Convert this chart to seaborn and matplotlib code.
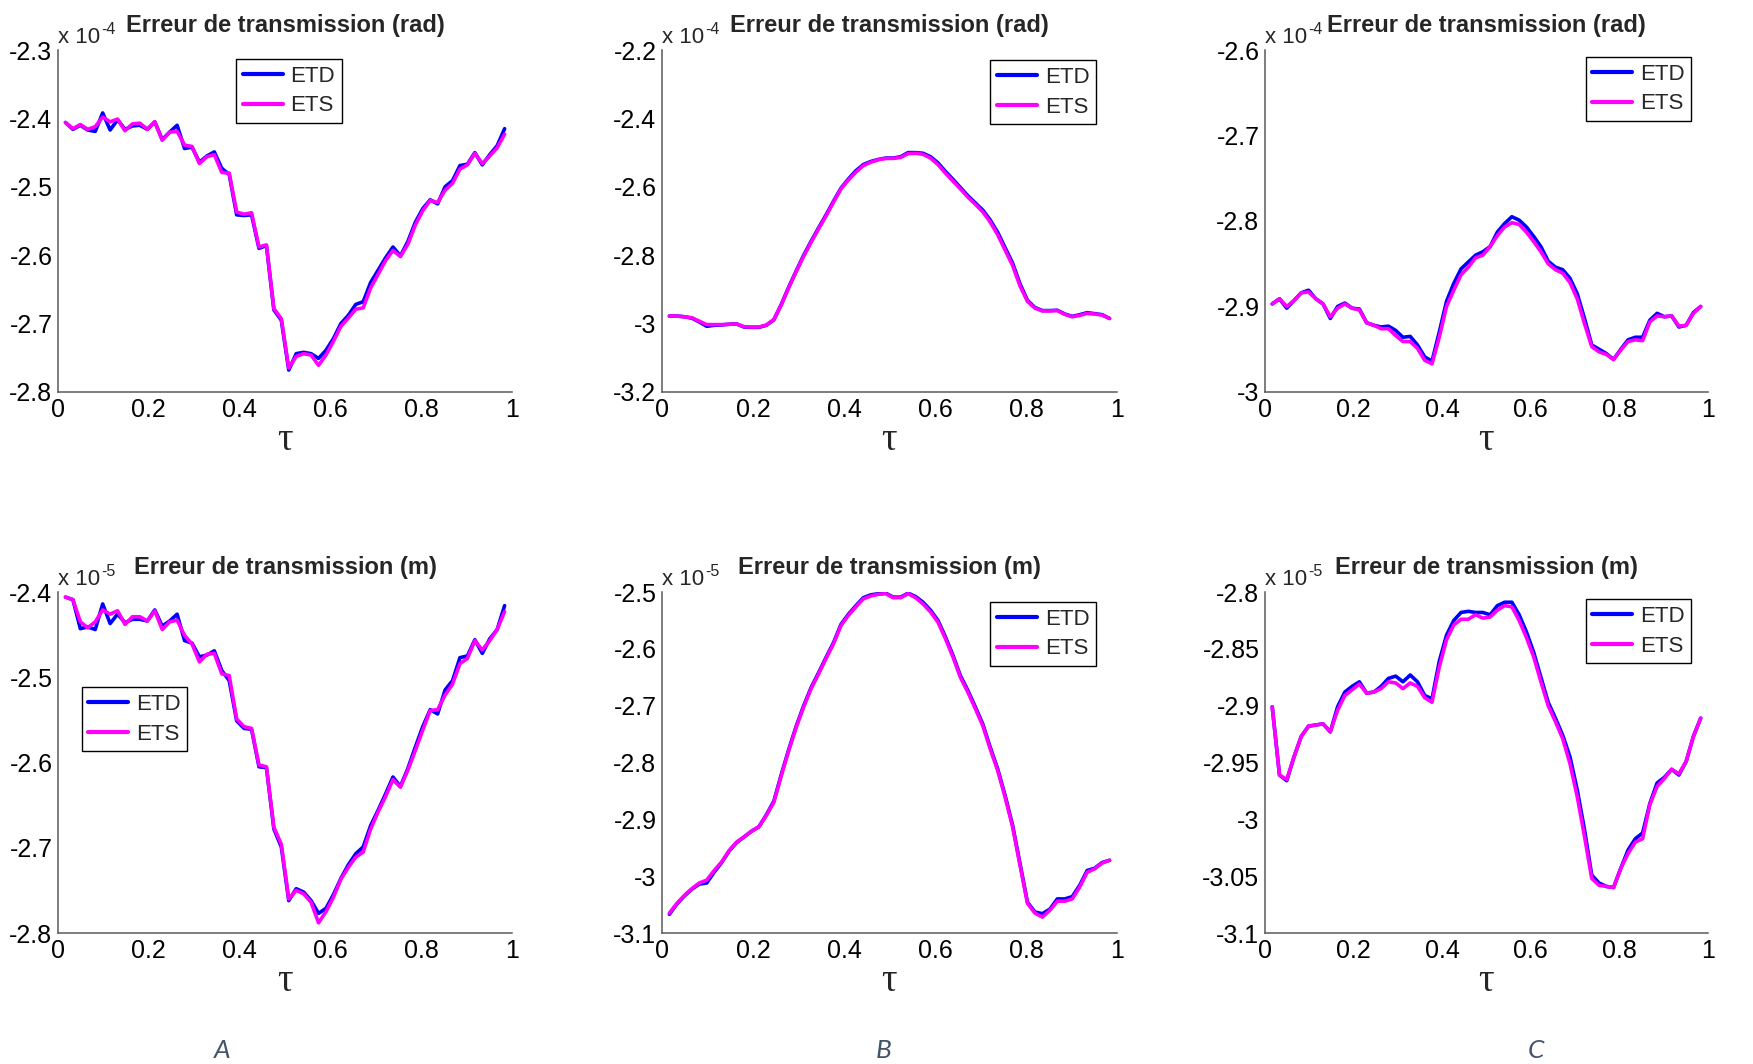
import numpy as np
import pandas as pd
import matplotlib
matplotlib.use("Agg")
import matplotlib.pyplot as plt
from matplotlib.lines import Line2D
from matplotlib.ticker import FuncFormatter, MultipleLocator
import seaborn as sns

sns.set_theme(style="white")
plt.rcParams["font.family"] = ["Liberation Sans", "DejaVu Sans"]

# grille en tau (60 points)
tau = np.arange(1, 61) / 61

# --- ligne du haut : erreur de transmission (rad), x 1e-4 ---
a_rad_etd = [-2.406, -2.416, -2.410, -2.417, -2.419, -2.392, -2.417, -2.402, -2.416, -2.411,
             -2.410, -2.416, -2.405, -2.431, -2.420, -2.410, -2.444, -2.442, -2.464, -2.455,
             -2.449, -2.473, -2.482, -2.541, -2.542, -2.541, -2.590, -2.586, -2.680, -2.695,
             -2.768, -2.744, -2.742, -2.744, -2.751, -2.739, -2.722, -2.700, -2.688, -2.672,
             -2.668, -2.640, -2.622, -2.604, -2.588, -2.601, -2.580, -2.552, -2.532, -2.519,
             -2.525, -2.500, -2.491, -2.469, -2.467, -2.450, -2.468, -2.453, -2.440, -2.415]
a_rad_ets = [-2.406, -2.415, -2.409, -2.416, -2.412, -2.398, -2.405, -2.401, -2.418, -2.408,
             -2.407, -2.416, -2.405, -2.432, -2.420, -2.419, -2.439, -2.441, -2.466, -2.456,
             -2.453, -2.479, -2.480, -2.537, -2.540, -2.538, -2.588, -2.585, -2.678, -2.693,
             -2.765, -2.748, -2.744, -2.746, -2.761, -2.746, -2.726, -2.704, -2.692, -2.679,
             -2.677, -2.648, -2.628, -2.608, -2.593, -2.602, -2.584, -2.556, -2.535, -2.520,
             -2.523, -2.505, -2.495, -2.474, -2.468, -2.451, -2.466, -2.455, -2.443, -2.423]

b_rad_etd = [-2.978, -2.978, -2.980, -2.984, -2.995, -3.008, -3.005, -3.004, -3.002, -3.001,
             -3.010, -3.011, -3.011, -3.005, -2.989, -2.944, -2.893, -2.846, -2.800, -2.759,
             -2.720, -2.682, -2.642, -2.604, -2.577, -2.553, -2.535, -2.526, -2.520, -2.516,
             -2.516, -2.512, -2.500, -2.500, -2.502, -2.512, -2.530, -2.555, -2.578, -2.602,
             -2.626, -2.647, -2.668, -2.697, -2.733, -2.778, -2.823, -2.884, -2.932, -2.953,
             -2.962, -2.962, -2.961, -2.972, -2.979, -2.974, -2.968, -2.971, -2.974, -2.985]
b_rad_ets = [-2.978, -2.978, -2.980, -2.983, -2.993, -3.003, -3.003, -3.003, -3.002, -3.001,
             -3.009, -3.010, -3.010, -3.004, -2.988, -2.945, -2.895, -2.848, -2.803, -2.762,
             -2.723, -2.685, -2.645, -2.606, -2.580, -2.557, -2.538, -2.528, -2.521, -2.517,
             -2.517, -2.514, -2.503, -2.502, -2.505, -2.516, -2.535, -2.560, -2.583, -2.606,
             -2.630, -2.651, -2.673, -2.703, -2.740, -2.785, -2.830, -2.890, -2.935, -2.955,
             -2.963, -2.963, -2.962, -2.973, -2.980, -2.976, -2.970, -2.972, -2.975, -2.985]

c_rad_etd = [-2.897, -2.891, -2.902, -2.893, -2.884, -2.881, -2.891, -2.897, -2.914, -2.900,
             -2.896, -2.902, -2.903, -2.919, -2.922, -2.924, -2.923, -2.928, -2.936, -2.935,
             -2.945, -2.959, -2.964, -2.930, -2.894, -2.873, -2.856, -2.848, -2.840, -2.836,
             -2.830, -2.813, -2.803, -2.795, -2.799, -2.807, -2.818, -2.830, -2.847, -2.854,
             -2.857, -2.867, -2.885, -2.914, -2.945, -2.950, -2.955, -2.962, -2.950, -2.939,
             -2.936, -2.936, -2.916, -2.908, -2.912, -2.911, -2.924, -2.922, -2.907, -2.900]
c_rad_ets = [-2.897, -2.891, -2.900, -2.893, -2.884, -2.883, -2.891, -2.897, -2.912, -2.902,
             -2.897, -2.902, -2.904, -2.919, -2.922, -2.926, -2.926, -2.934, -2.941, -2.941,
             -2.949, -2.963, -2.967, -2.936, -2.900, -2.881, -2.863, -2.854, -2.843, -2.840,
             -2.830, -2.817, -2.807, -2.802, -2.804, -2.813, -2.824, -2.836, -2.850, -2.857,
             -2.861, -2.872, -2.891, -2.920, -2.947, -2.953, -2.956, -2.962, -2.951, -2.941,
             -2.939, -2.940, -2.918, -2.911, -2.912, -2.911, -2.923, -2.922, -2.908, -2.900]

# --- ligne du bas : erreur de transmission (m), x 1e-5 ---
a_m_etd = [-2.406, -2.409, -2.443, -2.441, -2.444, -2.414, -2.437, -2.426, -2.436, -2.432,
           -2.432, -2.434, -2.421, -2.440, -2.434, -2.426, -2.457, -2.460, -2.476, -2.474,
           -2.469, -2.492, -2.504, -2.551, -2.560, -2.561, -2.605, -2.606, -2.678, -2.699,
           -2.762, -2.748, -2.752, -2.762, -2.777, -2.771, -2.755, -2.736, -2.720, -2.707,
           -2.699, -2.674, -2.656, -2.637, -2.617, -2.628, -2.607, -2.582, -2.558, -2.538,
           -2.543, -2.515, -2.504, -2.477, -2.475, -2.456, -2.472, -2.455, -2.444, -2.416]
a_m_ets = [-2.406, -2.409, -2.435, -2.442, -2.435, -2.421, -2.426, -2.422, -2.438, -2.429,
           -2.429, -2.434, -2.422, -2.444, -2.435, -2.433, -2.451, -2.461, -2.482, -2.473,
           -2.472, -2.496, -2.498, -2.549, -2.558, -2.560, -2.603, -2.605, -2.676, -2.696,
           -2.760, -2.750, -2.754, -2.764, -2.788, -2.775, -2.758, -2.737, -2.723, -2.711,
           -2.705, -2.678, -2.658, -2.640, -2.620, -2.629, -2.609, -2.586, -2.562, -2.539,
           -2.538, -2.521, -2.508, -2.484, -2.478, -2.457, -2.468, -2.457, -2.444, -2.423]

b_m_etd = [-3.067, -3.049, -3.035, -3.023, -3.014, -3.012, -2.993, -2.976, -2.956, -2.941,
           -2.931, -2.921, -2.913, -2.892, -2.868, -2.821, -2.777, -2.736, -2.700, -2.668,
           -2.642, -2.615, -2.589, -2.557, -2.539, -2.524, -2.510, -2.505, -2.503, -2.502,
           -2.509, -2.509, -2.502, -2.508, -2.518, -2.532, -2.550, -2.579, -2.611, -2.647,
           -2.673, -2.702, -2.732, -2.773, -2.811, -2.858, -2.910, -2.978, -3.046, -3.063,
           -3.066, -3.058, -3.040, -3.040, -3.036, -3.016, -2.990, -2.986, -2.976, -2.972]
b_m_ets = [-3.065, -3.048, -3.034, -3.022, -3.012, -3.007, -2.990, -2.975, -2.955, -2.940,
           -2.931, -2.921, -2.913, -2.893, -2.870, -2.823, -2.779, -2.738, -2.702, -2.670,
           -2.644, -2.617, -2.591, -2.559, -2.541, -2.526, -2.512, -2.507, -2.504, -2.503,
           -2.510, -2.510, -2.503, -2.510, -2.521, -2.535, -2.553, -2.582, -2.614, -2.650,
           -2.676, -2.705, -2.735, -2.776, -2.814, -2.861, -2.913, -2.981, -3.048, -3.065,
           -3.072, -3.060, -3.044, -3.044, -3.040, -3.019, -2.993, -2.987, -2.977, -2.972]

c_m_etd = [-2.901, -2.961, -2.966, -2.945, -2.927, -2.918, -2.917, -2.916, -2.923, -2.901,
           -2.888, -2.883, -2.879, -2.889, -2.888, -2.883, -2.876, -2.874, -2.879, -2.873,
           -2.879, -2.891, -2.894, -2.861, -2.838, -2.825, -2.818, -2.817, -2.818, -2.818,
           -2.820, -2.812, -2.809, -2.809, -2.820, -2.835, -2.853, -2.875, -2.897, -2.911,
           -2.926, -2.945, -2.974, -3.009, -3.049, -3.056, -3.059, -3.060, -3.043, -3.027,
           -3.017, -3.012, -2.986, -2.968, -2.963, -2.956, -2.961, -2.949, -2.927, -2.911]
c_m_ets = [-2.901, -2.961, -2.965, -2.945, -2.927, -2.918, -2.917, -2.916, -2.923, -2.904,
           -2.891, -2.886, -2.881, -2.889, -2.888, -2.885, -2.879, -2.880, -2.885, -2.880,
           -2.883, -2.893, -2.897, -2.866, -2.842, -2.829, -2.824, -2.824, -2.820, -2.823,
           -2.822, -2.816, -2.812, -2.813, -2.825, -2.840, -2.857, -2.879, -2.900, -2.914,
           -2.929, -2.951, -2.980, -3.015, -3.052, -3.058, -3.059, -3.060, -3.043, -3.030,
           -3.020, -3.017, -2.987, -2.971, -2.964, -2.956, -2.960, -2.949, -2.927, -2.911]

x_ticks = [0, 0.2, 0.4, 0.6, 0.8, 1]
panel_letters = ["A", "B", "C"]

panels = [
    # (etd, ets, ylim, ystep, exposant, titre, position, legende)
    (a_rad_etd, a_rad_ets, (-2.8, -2.3), 0.1, "-4", "Erreur de transmission (rad)",
     [0.0331, 0.6316, 0.2590, 0.3214], (0.392, 0.974)),
    (b_rad_etd, b_rad_ets, (-3.2, -2.2), 0.2, "-4", "Erreur de transmission (rad)",
     [0.3776, 0.6316, 0.2596, 0.3214], (0.722, 0.970)),
    (c_rad_etd, c_rad_ets, (-3.0, -2.6), 0.1, "-4", "Erreur de transmission (rad)",
     [0.7216, 0.6316, 0.2527, 0.3214], (0.724, 0.980)),
    (a_m_etd, a_m_ets, (-2.8, -2.4), 0.1, "-5", "Erreur de transmission (m)",
     [0.0331, 0.1231, 0.2590, 0.3205], (0.052, 0.721)),
    (b_m_etd, b_m_ets, (-3.1, -2.5), 0.1, "-5", "Erreur de transmission (m)",
     [0.3776, 0.1231, 0.2596, 0.3205], (0.722, 0.971)),
    (c_m_etd, c_m_ets, (-3.1, -2.8), 0.05, "-5", "Erreur de transmission (m)",
     [0.7216, 0.1231, 0.2527, 0.3205], (0.724, 0.979)),
]

couleurs = {"ETD": "#0000FF", "ETS": "#FF00FF"}
gris = "#5a5a5a"
fmt = FuncFormatter(lambda v, p: f"{round(v, 3):g}")

fig = plt.figure(figsize=(17.53, 10.64), dpi=100, facecolor="white")

for etd, ets, ylim, ystep, expo, titre, pos, leg_pos in panels:
    ax = fig.add_axes(pos)
    df = pd.DataFrame({
        "tau": np.concatenate([tau, tau]),
        "valeur": np.concatenate([etd, ets]),
        "serie": ["ETD"] * len(tau) + ["ETS"] * len(tau),
    })
    sns.lineplot(data=df, x="tau", y="valeur", hue="serie", palette=couleurs,
                 linewidth=2.6, legend=False, ax=ax, estimator=None, sort=False)

    ax.set_xlim(0, 1)
    ax.set_ylim(*ylim)
    ax.set_xticks(x_ticks)
    ax.yaxis.set_major_locator(MultipleLocator(ystep))
    ax.xaxis.set_major_formatter(fmt)
    ax.yaxis.set_major_formatter(fmt)
    ax.tick_params(direction="in", length=5, width=1, color=gris, labelsize=18,
                   labelcolor="black", pad=4)
    sns.despine(ax=ax)
    for s in ["left", "bottom"]:
        ax.spines[s].set_color(gris)
        ax.spines[s].set_linewidth(1.1)

    ax.set_ylabel("")
    ax.set_xlabel("τ", fontsize=28, family=["Liberation Serif", "DejaVu Serif"], labelpad=0)
    ax.set_title(titre, fontsize=17, fontweight="bold", pad=13)

    # facteur d'échelle façon MATLAB : "x 10" + exposant
    base = ax.text(0.0, 1.005, "x 10", transform=ax.transAxes,
                   ha="left", va="bottom", fontsize=16)
    ax.annotate(expo, xy=(1.0, 0.55), xycoords=base, ha="left", va="bottom",
                fontsize=11.5, xytext=(1, 0), textcoords="offset points")

    handles = [Line2D([0], [0], color=couleurs[k], lw=3.0) for k in ["ETD", "ETS"]]
    leg = ax.legend(handles, ["ETD", "ETS"], loc="upper left", bbox_to_anchor=leg_pos,
                    fontsize=16, frameon=True, fancybox=False, framealpha=1,
                    edgecolor="black", borderpad=0.3, labelspacing=0.4,
                    handlelength=1.8, handletextpad=0.35, borderaxespad=0)
    leg.get_frame().set_linewidth(1.0)

# lettres sous chaque colonne
for lettre, xc in zip(panel_letters, [222, 884, 1536]):
    fig.text(xc / 1753, 1 - 1050 / 1064, lettre, ha="center", va="center",
             fontsize=19, style="italic", color="#44546A",
             family=["Lato", "Open Sans", "DejaVu Sans"])

fig.savefig("out.png", dpi=100, facecolor="white")
